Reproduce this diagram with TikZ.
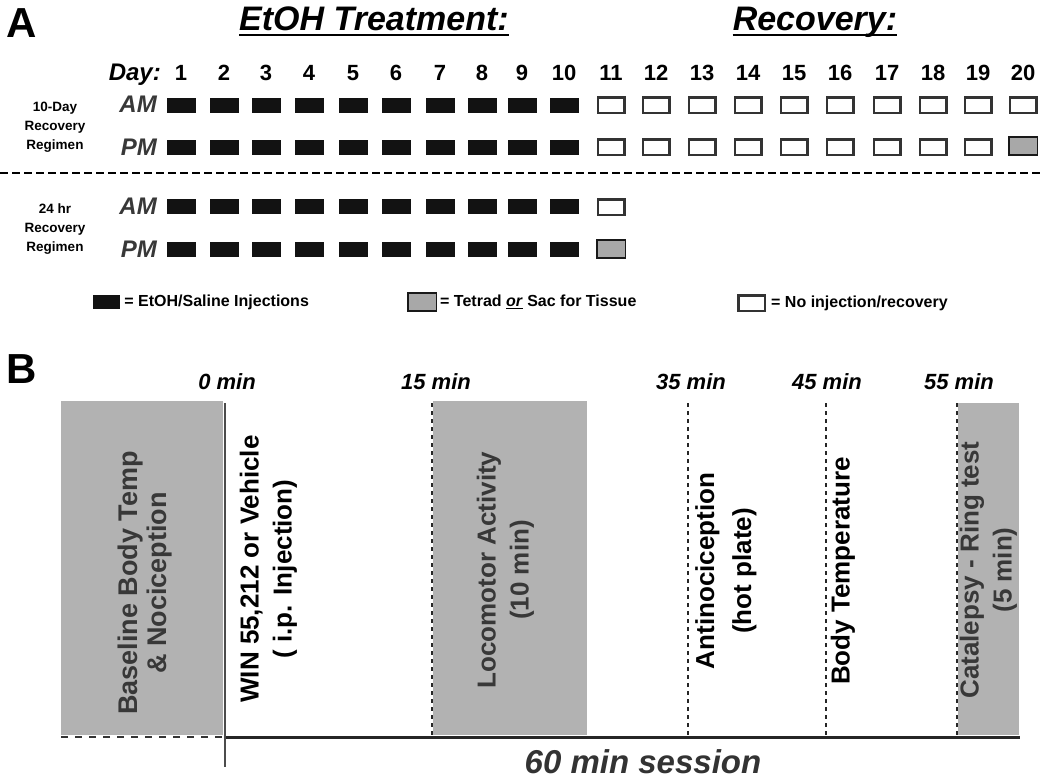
\documentclass[tikz,border=0pt]{standalone}
\usepackage{fontspec}
\setmainfont{Liberation Sans}
\usepackage{tikz}
\usetikzlibrary{positioning}

\tikzset{
  injbox/.style={rectangle, fill=black!93, minimum width=29pt, minimum height=15pt, inner sep=0pt},
  openbox/.style={rectangle, draw=black!80, line width=2.5pt, fill=white, minimum width=26.5pt, minimum height=15.5pt, inner sep=0pt},
  tetradbox/.style={openbox, draw=black!90, line width=1.5pt, fill=black!34, minimum width=28.5pt, minimum height=18pt},
  daynum/.style={font=\fontsize{22}{22}\selectfont\bfseries, anchor=base, inner sep=0pt},
  ampm/.style={font=\fontsize{24}{24}\selectfont\bfseries\itshape, text=black!78, anchor=base east, inner sep=0pt},
  regimen/.style={font=\fontsize{13.5}{19}\selectfont\bfseries, align=center, inner sep=0pt},
  heading/.style={font=\fontsize{34}{34}\selectfont\bfseries\itshape, anchor=base, inner sep=0pt},
  panel/.style={font=\fontsize{42}{42}\selectfont\bfseries, anchor=base west, inner sep=0pt},
  legtxt/.style={font=\fontsize{16}{16}\selectfont\bfseries, anchor=west, inner sep=0pt},
  minlabel/.style={font=\fontsize{22}{22}\selectfont\bfseries\itshape, anchor=base, inner sep=0pt},
  phase/.style={rotate=90, align=center, font=\fontsize{26}{33}\selectfont\bfseries, inner sep=0pt},
  tickline/.style={line width=1.8pt, black!85, dash pattern=on 4pt off 4pt},
}

\begin{document}
\begin{tikzpicture}[x=1pt, y=-1pt]
    \useasboundingbox (0,0) rectangle (1050,779);

    % =================================================================
    % PANEL A: TREATMENT / RECOVERY SCHEDULE
    % =================================================================
    \node[panel] (labA) at (6,37) {A};
    \node[heading] (etoh) at (374,30) {EtOH Treatment:};
    \node[heading] (recov) at (815,30) {Recovery:};
    \draw[line width=2pt] ([yshift=-5pt]etoh.base west) -- ([yshift=-5pt]etoh.base east);
    \draw[line width=2pt] ([yshift=-5pt]recov.base west) -- ([yshift=-5pt]recov.base east);

    \node[ampm, text=black] (daylab) at (161,80) {Day:};
    \node[ampm] (amA) at (157,112) {AM};
    \node[ampm] (pmA) at (157,155) {PM};
    \node[ampm] (amB) at (157,214) {AM};
    \node[ampm] (pmB) at (157,257) {PM};

    \node[regimen] (reg10) at (55,127) {10-Day\\Recovery\\Regimen};
    \node[regimen] (reg24) at (55,229) {24 hr\\Recovery\\Regimen};

    % Days 1-10: injections in both regimens
    \foreach \d/\x in {1/181, 2/224, 3/266, 4/309, 5/353, 6/396, 7/440, 8/482, 9/522, 10/564} {
        \node[daynum] (day\d) at (\x,80) {\d};
        \node[injbox] (amA\d) at (\x,105) {};
        \node[injbox] (pmA\d) at (\x,147) {};
        \node[injbox] (amB\d) at (\x,206) {};
        \node[injbox] (pmB\d) at (\x,249) {};
    }

    % Days 11-20: recovery
    \foreach \d/\x in {11/611, 12/656, 13/702, 14/748, 15/794, 16/840, 17/887, 18/933, 19/978, 20/1023} {
        \node[daynum] (day\d) at (\x,80) {\d};
        \node[openbox] (amA\d) at (\x,105) {};
    }
    \foreach \d/\x in {11/611, 12/656, 13/702, 14/748, 15/794, 16/840, 17/887, 18/933, 19/978} {
        \node[openbox] (pmA\d) at (\x,147) {};
    }
    \node[tetradbox] (pmA20) at (1023,146) {};
    \node[openbox] (amB11) at (611,207) {};
    \node[tetradbox] (pmB11) at (611,249) {};

    % Trennlinie
    \draw[line width=2.5pt, dash pattern=on 8pt off 4pt] (0,173) -- (1043,173);

    % Legende
    \node[injbox, minimum width=27pt, minimum height=14pt] (keyinj) at (106.5,302) {};
    \node[legtxt, right=4pt of keyinj] (keyinjtxt) {= EtOH/Saline Injections};
    \node[tetradbox] (keytet) at (422,302) {};
    \node[legtxt, right=3pt of keytet] (keytettxt) {= Tetrad \underline{\textit{or}} Sac for Tissue};
    \node[openbox] (keyopen) at (751.5,303) {};
    \node[legtxt, right=5pt of keyopen] (keyopentxt) {= No injection/recovery};

    % =================================================================
    % PANEL B: 60 MIN TEST SESSION
    % =================================================================
    \node[panel] (labB) at (6,383) {B};

    % grey test phases
    \fill[black!30] (61,401) rectangle (223,735);
    \fill[black!30] (433,401) rectangle (587,735);
    \fill[black!30] (958,403) rectangle (1019,735);

    % time marks
    \coordinate (zerotop) at (225,403);
    \coordinate (zerobot) at (225,767);
    \node[minlabel] (lab0) at (227,389) {0 min};
    \foreach \n/\x/\lx in {15/432/436, 35/688/691, 45/826/827, 55/957/959} {
        \coordinate (top\n) at (\x,403);
        \coordinate (bot\n) at (\x,737);
        \draw[tickline] (top\n) -- (bot\n);
        \node[minlabel] (lab\n) at (\lx,389) {\n\ min};
    }

    % axis
    \coordinate (preL) at (61,737);
    \coordinate (axisL) at (225,737);
    \coordinate (axisR) at (1020,737);
    \draw[line width=2.5pt, black!80, dash pattern=on 7pt off 7pt] (preL) -- (axisL);
    \draw[line width=3pt, black!85] (axisL) -- (axisR);
    \draw[line width=2pt, black!70] (zerotop) -- (zerobot);

    % phase labels
    \node[phase, text=black!78, font=\fontsize{27}{29}\selectfont\bfseries] (basephase) at (145.5,583) {Baseline Body Temp\\\& Nociception};
    \node[phase] (win) at (268.5,569) {WIN 55,212 or Vehicle\\( i.p. Injection)};
    \node[phase, text=black!78] (loco) at (505.5,570) {Locomotor Activity\\(10 min)};
    \node[phase, font=\fontsize{26}{37}\selectfont\bfseries] (antinoc) at (726,571) {Antinociception\\(hot plate)};
    \node[phase] (bodytemp) at (843,571) {Body Temperature};
    \node[phase, text=black!78] (catal) at (988.5,570) {Catalepsy - Ring test\\(5 min)};

    \node[heading, font=\fontsize{33}{33}\selectfont\bfseries\itshape, text=black!80] (session) at (643,773) {60 min session};

\end{tikzpicture}
\end{document}
